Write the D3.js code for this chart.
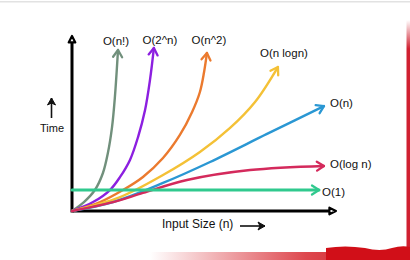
<!DOCTYPE html>
<html>
<head>
<meta charset="utf-8">
<script src="https://cdn.jsdelivr.net/npm/d3@7"></script>
<style>
  html, body { margin: 0; padding: 0; background: #fff; }
  svg { display: block; }
  text { font-family: "Liberation Sans", Arial, sans-serif; fill: #111; }
</style>
</head>
<body>
<svg id="chart" width="410" height="260"></svg>
<script>
// ---- Data (arbitrary units: input size n vs time) ----
const seriesNames = ["O(n!)", "O(2^n)", "O(n^2)", "O(n logn)", "O(n)", "O(log n)", "O(1)"];
const factorialPts = [[0,0],[4.6,5.2],[8.8,12.2],[11.9,22.1],[13.8,33.7],[15.4,48.8],[16.5,66.3],[17.7,93.6]];
const expPts       = [[0,0],[8.1,5.2],[14.6,12.2],[18.5,19.8],[22.3,29.7],[25.4,43],[28.1,58.7],[30,76.2],[31.5,94.8]];
const quadPts      = [[0,0],[10.8,5.2],[19.6,12.2],[27.3,19.8],[35,30.8],[41.5,44.2],[46.2,57.6],[49.2,69.2],[50.8,80.8],[51.9,91.9]];
const nlognPts     = [[0,0],[18.5,8.1],[35,20.9],[49.2,34.3],[60.8,48.3],[70.4,63.4],[79.2,83.7]];
const linearPts    = [[0,0],[15.8,5.2],[35,16.3],[53.1,28.5],[75,44.8],[96.9,61]];
const logPts       = [[0,0],[15.8,5.2],[27.3,10.5],[44.2,18],[68.5,23.8],[96.9,26.2]];
const constPts     = [[0,12.2],[95,12.2]];
const xAxisLabel = "Input Size (n)";
const yAxisLabel = "Time";

const seriesPts = [factorialPts, expPts, quadPts, nlognPts, linearPts, logPts, constPts];
const colors = ["#71907c", "#8c1fe0", "#eb7a2e", "#f4c136", "#2a97d3", "#d42a5c", "#30c98e"];
// label placement relative to the tip of each curve (px) and anchor
const labelLayout = [
  {dx: -2, dy: -5, anchor: "middle"},
  {dx: 6,  dy: -4, anchor: "middle"},
  {dx: 2,  dy: -9, anchor: "middle"},
  {dx: 6,  dy: -10, anchor: "middle"},
  {dx: 6,  dy: 1,  anchor: "start"},
  {dx: 6,  dy: 2,  anchor: "start"},
  {dx: 3,  dy: 6,  anchor: "start"}
];

const svg = d3.select("#chart");
const W = 410, H = 260;

// ---- decorations (frame of the original screenshot) ----
const defs = svg.append("defs");
const gBottom = defs.append("linearGradient").attr("id", "gBottom").attr("x1", "0").attr("x2", "1");
gBottom.append("stop").attr("offset", "0").attr("stop-color", "#d51a22").attr("stop-opacity", 0);
gBottom.append("stop").attr("offset", "0.6").attr("stop-color", "#d51a22").attr("stop-opacity", 0.8);
gBottom.append("stop").attr("offset", "1").attr("stop-color", "#c8101a").attr("stop-opacity", 1);
const gRight = defs.append("linearGradient").attr("id", "gRight").attr("x1", "0").attr("x2", "0").attr("y1", "0").attr("y2", "1");
gRight.append("stop").attr("offset", "0").attr("stop-color", "#d02030").attr("stop-opacity", 0);
gRight.append("stop").attr("offset", "0.12").attr("stop-color", "#d02030").attr("stop-opacity", 1);
gRight.append("stop").attr("offset", "1").attr("stop-color", "#d02030").attr("stop-opacity", 1);

svg.append("rect").attr("x", 0).attr("y", 1).attr("width", W).attr("height", 1.5).attr("fill", "#e2e2e2");
svg.append("rect").attr("x", 406.5).attr("y", 20).attr("width", 3.5).attr("height", 240).attr("fill", "url(#gRight)");
svg.append("rect").attr("x", 150).attr("y", 252).attr("width", 260).attr("height", 8).attr("fill", "url(#gBottom)");
svg.append("path")
  .attr("d", "M326,260 L326,248 Q345,245 365,248 Q380,252 392,248 Q402,245 410,247 L410,260 Z")
  .attr("fill", "#d10f18");

// ---- scales ----
const x = d3.scaleLinear().domain([0, 100]).range([72, 332]);
const y = d3.scaleLinear().domain([0, 100]).range([211, 39]);
const xAxisEnd = 99, yAxisEnd = 98;

// ---- markers ----
colors.forEach((c, i) => {
  defs.append("marker")
    .attr("id", "m" + i)
    .attr("markerUnits", "userSpaceOnUse")
    .attr("viewBox", "-10 -7 12 14")
    .attr("refX", 0).attr("refY", 0)
    .attr("markerWidth", 12).attr("markerHeight", 14)
    .attr("orient", "auto")
    .append("path")
    .attr("d", "M-7,-4.5 L0,0 L-7,4.5")
    .attr("fill", "none").attr("stroke", c)
    .attr("stroke-width", 2.3).attr("stroke-linecap", "round").attr("stroke-linejoin", "round");
});
defs.append("marker")
  .attr("id", "axisTri")
  .attr("markerUnits", "userSpaceOnUse")
  .attr("viewBox", "-2 -6 12 12")
  .attr("refX", 0).attr("refY", 0)
  .attr("markerWidth", 12).attr("markerHeight", 12)
  .attr("orient", "auto")
  .append("path")
  .attr("d", "M0,-3.3 L6.5,0 L0,3.3 Z")
  .attr("fill", "#fff").attr("stroke", "#000").attr("stroke-width", 2.2).attr("stroke-linejoin", "round");
defs.append("marker")
  .attr("id", "smallArrow")
  .attr("markerUnits", "userSpaceOnUse")
  .attr("viewBox", "-9 -6 11 12")
  .attr("refX", 0).attr("refY", 0)
  .attr("markerWidth", 11).attr("markerHeight", 12)
  .attr("orient", "auto")
  .append("path")
  .attr("d", "M-7,-4 L0,0 L-7,4 L-5,0 Z")
  .attr("fill", "#111").attr("stroke", "#111").attr("stroke-width", 1).attr("stroke-linejoin", "round");

// ---- axes ----
svg.append("line")
  .attr("x1", x(0)).attr("y1", y(0)).attr("x2", x(xAxisEnd)).attr("y2", y(0))
  .attr("stroke", "#000").attr("stroke-width", 3).attr("marker-end", "url(#axisTri)");
svg.append("line")
  .attr("x1", x(0)).attr("y1", y(0) + 1.5).attr("x2", x(0)).attr("y2", y(yAxisEnd))
  .attr("stroke", "#000").attr("stroke-width", 3).attr("marker-end", "url(#axisTri)");

// ---- curves ----
const line = d3.line().x(d => x(d[0])).y(d => y(d[1])).curve(d3.curveCatmullRom.alpha(0.5));
seriesPts.forEach((pts, i) => {
  svg.append("path")
    .attr("d", line(pts))
    .attr("fill", "none")
    .attr("stroke", colors[i])
    .attr("stroke-width", i === 6 ? 3 : 2.4)
    .attr("stroke-linecap", "round")
    .attr("marker-end", "url(#m" + i + ")");
});

// ---- labels ----
seriesPts.forEach((pts, i) => {
  const tip = pts[pts.length - 1];
  const L = labelLayout[i];
  svg.append("text")
    .attr("x", x(tip[0]) + L.dx)
    .attr("y", y(tip[1]) + L.dy)
    .attr("text-anchor", L.anchor)
    .attr("font-size", 11.5)
    .text(seriesNames[i]);
});

// ---- axis titles with arrows ----
svg.append("text").attr("x", 162).attr("y", 228).attr("font-size", 12).text(xAxisLabel);
svg.append("line").attr("x1", 240).attr("y1", 226).attr("x2", 265).attr("y2", 226)
  .attr("stroke", "#111").attr("stroke-width", 1.6).attr("marker-end", "url(#smallArrow)");
svg.append("text").attr("x", 52).attr("y", 132).attr("text-anchor", "middle").attr("font-size", 11).text(yAxisLabel);
svg.append("line").attr("x1", 51.5).attr("y1", 118).attr("x2", 51.5).attr("y2", 98)
  .attr("stroke", "#111").attr("stroke-width", 1.6).attr("marker-end", "url(#smallArrow)");
</script>
</body>
</html>
